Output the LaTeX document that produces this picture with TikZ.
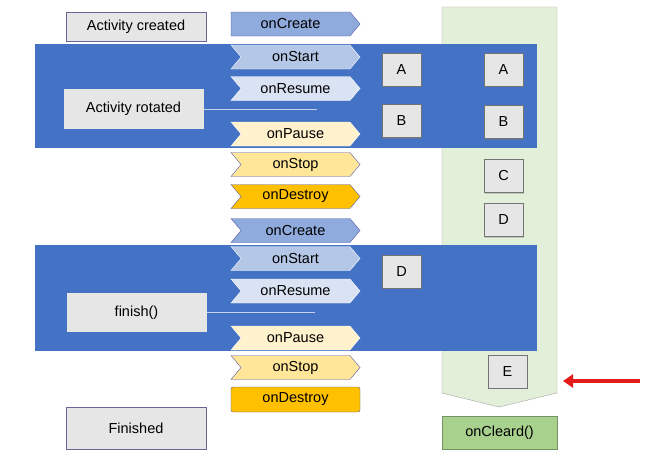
\documentclass[tikz,border=0pt]{standalone}
\usepackage{fontspec}
\setmainfont{Liberation Sans}
\usetikzlibrary{shapes.symbols,arrows.meta,shadows}
\definecolor{bandblue}{HTML}{4472C4}
\definecolor{cCreate}{HTML}{8FAADC}
\definecolor{cStart}{HTML}{B4C7E7}
\definecolor{cResume}{HTML}{DAE3F3}
\definecolor{cPause}{HTML}{FFF2CC}
\definecolor{cStop}{HTML}{FFE699}
\definecolor{cDestroy}{HTML}{FFC000}
\definecolor{boxgray}{HTML}{E7E6E6}
\definecolor{colgreen}{HTML}{E2F0D9}
\definecolor{clgreen}{HTML}{A9D18E}
\definecolor{arrred}{HTML}{E31B1B}
\begin{document}
\begin{tikzpicture}[x=1pt, y=-1pt, font=\fontsize{14.5}{17}\selectfont, state style/.style={rectangle, draw=gray!80!blue, fill=boxgray, minimum width=140pt, inner sep=0pt}, call style/.style={signal, signal to=east, signal from=west, signal pointer angle=100, minimum width=129pt, minimum height=24pt, inner sep=0pt, fill=#1}, dark edge/.style={draw=gray!70!blue}, light edge/.style={draw=white}, vm style/.style={rectangle, draw=gray!90!black, fill=boxgray, minimum width=39pt, minimum height=33pt, inner sep=0pt, drop shadow={shadow xshift=1.2pt, shadow yshift=-1.2pt, opacity=.35}}, link style/.style={draw=cStart!80!white, line width=0.6pt}]
	\useasboundingbox (0,0) rectangle (659,458);
	\fill[white] (0,0) rectangle (659,458);
	\draw[draw=gray!70, fill=colgreen] (442,7) -- (557,7) -- (557,393) -- (499,407) -- (442,393) -- cycle;
	\fill[bandblue] (35,44) rectangle (537,148);
	\fill[bandblue] (35,245) rectangle (537,351);
	\node[state style, minimum height=29pt] (S1) at (136,26.5) {Activity created};
	\node[state style, minimum height=40pt, draw=none] (S2) at (133.5,109) {Activity rotated};
	\node[state style, minimum height=39pt, draw=none] (S3) at (136.5,312.5) {finish()};
	\node[state style, minimum height=42pt] (S4) at (136,428) {Finished};
	\coordinate (L1) at (317,111);
	\coordinate (L2) at (315,315);
	\draw[link style] (S2.east) -- (S2.east -| L1);
	\draw[link style] (S3.east) -- (S3.east -| L2);
	\node[call style=cCreate, signal from=nowhere, dark edge] (C1) at (290.5,24) {onCreate};
	\node[call style=cStart, light edge] (C2) at (295.5,57) {onStart};
	\node[call style=cResume, light edge] (C3) at (295.5,88.5) {onResume};
	\node[call style=cPause, light edge] (C4) at (295.5,134) {onPause};
	\node[call style=cStop, dark edge] (C5) at (295.5,164.5) {onStop};
	\node[call style=cDestroy, dark edge] (C6) at (295.5,196.5) {onDestroy};
	\node[call style=cCreate, dark edge] (C7) at (295.5,230.5) {onCreate};
	\node[call style=cStart, light edge] (C8) at (295.5,258.5) {onStart};
	\node[call style=cResume, light edge] (C9) at (295.5,291) {onResume};
	\node[call style=cPause, light edge] (C10) at (295.5,338) {onPause};
	\node[call style=cStop, dark edge] (C11) at (295.5,367.5) {onStop};
	\node[rectangle, rounded corners=2pt, fill=cDestroy, dark edge, minimum width=129pt, minimum height=25pt, inner sep=0pt] (C12) at (295.5,399.5) {onDestroy};
	\node[vm style] (V1) at (401.5,69.5) {A};
	\node[vm style] (V2) at (503.5,69.5) {A};
	\node[vm style] (V3) at (401.5,121) {B};
	\node[vm style] (V4) at (503.5,122) {B};
	\node[vm style] (V5) at (503.5,176) {C};
	\node[vm style] (V6) at (503.5,220) {D};
	\node[vm style] (V7) at (401.5,271.5) {D};
	\node[vm style] (V8) at (507.5,371.5) {E};
	\node[rectangle, draw=clgreen!70!black, fill=clgreen, minimum width=115pt, minimum height=33pt, inner sep=0pt] (K1) at (499.5,432.5) {onCleard()};
	\coordinate (R1) at (640,381);
	\coordinate (R2) at (563,381);
	\draw[arrred, line width=4.5pt, -{Triangle[length=10pt,width=13pt]}] (R1) -- (R2);
\end{tikzpicture}
\end{document}
